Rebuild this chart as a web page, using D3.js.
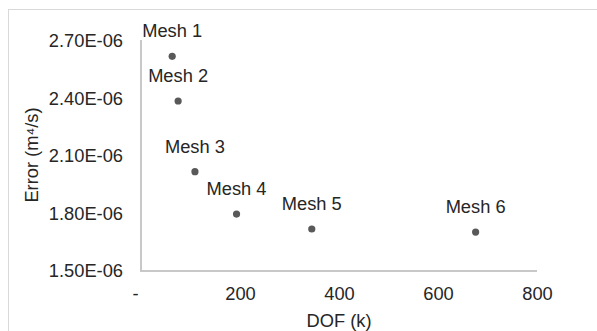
<!DOCTYPE html>
<html><head><meta charset="utf-8">
<script src="https://cdn.jsdelivr.net/npm/d3@7"></script>
<style>body{margin:0;background:#fff}svg{display:block}text{font-family:"Liberation Sans",Arial,sans-serif}</style>
</head><body>
<script>
const labels = ["Mesh 1","Mesh 2","Mesh 3","Mesh 4","Mesh 5","Mesh 6"];
const dof = [63, 75, 109, 193, 345, 676];
const err = [2.62e-6, 2.387e-6, 2.018e-6, 1.797e-6, 1.719e-6, 1.703e-6];
const xTicks = [0, 200, 400, 600, 800];
const yTicks = [1.5e-6, 1.8e-6, 2.1e-6, 2.4e-6, 2.7e-6];
const xTitle = "DOF (k)";
const yTitle = "Error (m\u2074/s)";

const W = 597, H = 331;
const svg = d3.select("body").append("svg").attr("width", W).attr("height", H);
svg.append("rect").attr("x", 8.5).attr("y", 9.5).attr("width", W + 10).attr("height", H + 10)
  .attr("fill", "#fff").attr("stroke", "#d9d9d9").attr("stroke-width", 1);

const x = d3.scaleLinear().domain([0, 800]).range([141, 537]);
const y = d3.scaleLinear().domain([1.5e-6, 2.7e-6]).range([271, 41]);
const fs = 18.3;
const tc = "#262626";

// axes lines
svg.append("line").attr("x1", x(0)).attr("x2", x(0)).attr("y1", y(1.5e-6)).attr("y2", 40)
  .attr("stroke", "#c8c8c8").attr("stroke-width", 2);
svg.append("line").attr("x1", x(0) - 1).attr("x2", x(800)).attr("y1", y(1.5e-6)).attr("y2", y(1.5e-6))
  .attr("stroke", "#c8c8c8").attr("stroke-width", 2);

const xAxis = d3.axisBottom(x).tickValues(xTicks).tickSize(0).tickPadding(0)
  .tickFormat(d => d === 0 ? "-" : d3.format("d")(d));
const gx = svg.append("g").attr("transform", `translate(0,${y(1.5e-6) + 16})`).call(xAxis);
gx.select(".domain").remove();
gx.selectAll("text").attr("font-size", fs).attr("fill", tc).attr("dy", "0.71em")
  .attr("font-family", '"Liberation Sans",Arial,sans-serif');
gx.selectAll(".tick").filter(d => d === 0).select("text").attr("dx", -6);

const yAxis = d3.axisLeft(y).tickValues(yTicks).tickSize(0).tickPadding(0)
  .tickFormat(d => (d * 1e6).toFixed(2) + "E-06");
const gy = svg.append("g").attr("transform", `translate(123,0)`).call(yAxis);
gy.select(".domain").remove();
gy.selectAll("text").attr("font-size", fs).attr("fill", tc)
  .attr("font-family", '"Liberation Sans",Arial,sans-serif');

// titles
svg.append("text").attr("x", (x(0) + x(800)) / 2).attr("y", 327).attr("text-anchor", "middle")
  .attr("font-size", fs).attr("fill", tc).text(xTitle);
svg.append("text").attr("transform", `translate(38,155) rotate(-90)`).attr("text-anchor", "middle")
  .attr("font-size", fs).attr("fill", tc).text(yTitle);

// points
const data = labels.map((l, i) => ({l, x: dof[i], y: err[i]}));
svg.selectAll("circle.pt").data(data).join("circle").attr("class", "pt")
  .attr("cx", d => x(d.x)).attr("cy", d => y(d.y)).attr("r", 3.6).attr("fill", "#595959");
svg.selectAll("text.lbl").data(data).join("text").attr("class", "lbl")
  .attr("x", d => x(d.x)).attr("y", d => y(d.y) - 19).attr("text-anchor", "middle")
  .attr("font-size", fs).attr("fill", tc).text(d => d.l);
</script>
</body></html>
